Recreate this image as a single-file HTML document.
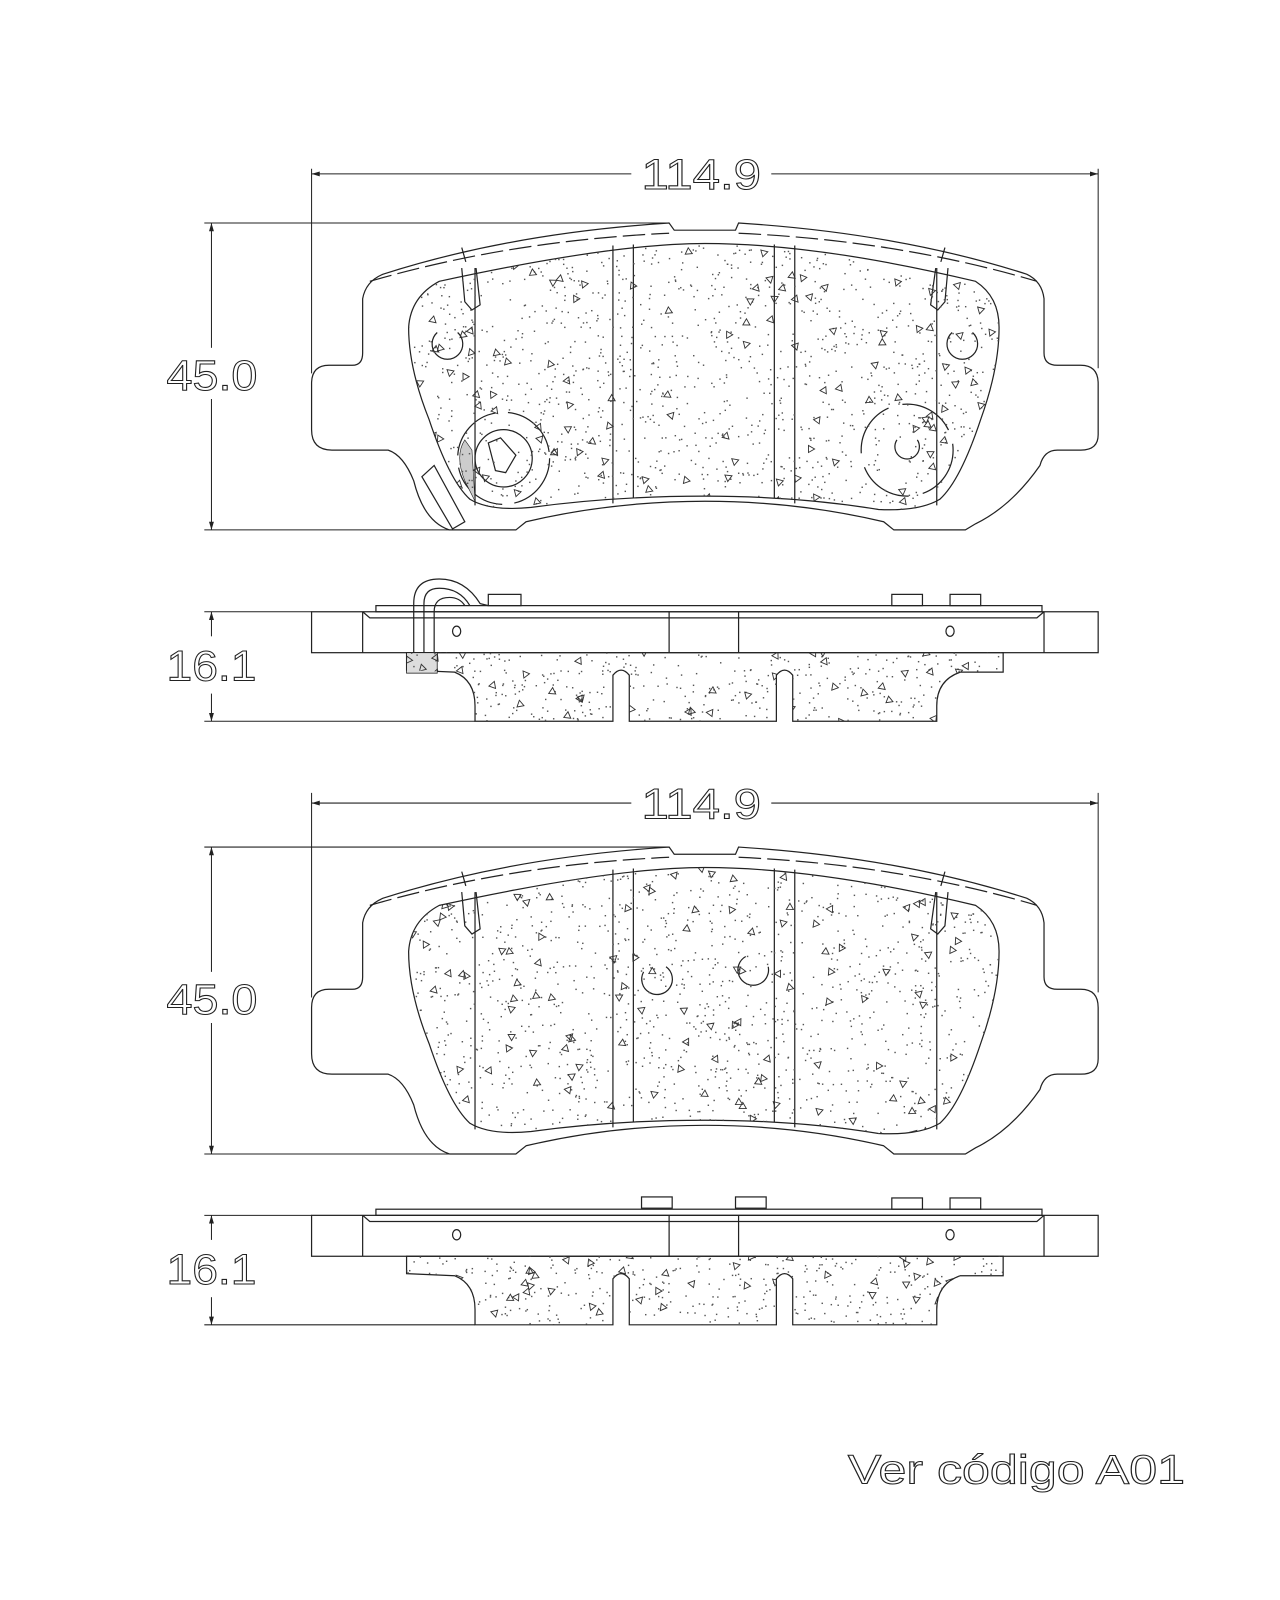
<!DOCTYPE html>
<html><head><meta charset="utf-8"><style>
html,body{margin:0;padding:0;background:#fff;}
svg{display:block;}
text{font-family:"Liberation Sans",sans-serif;fill:#fff;stroke:#222;stroke-width:1;}
</style></head><body>
<svg id="s" width="1280" height="1600" viewBox="0 0 1253 1564" preserveAspectRatio="none" xmlns="http://www.w3.org/2000/svg">
<defs>
<clipPath id="cf1"><path id="fric" d="M400,320 Q402,290 430,275 Q600,238 690,238 Q800,238 955,275 Q978,290 978,320 Q978,360 960,410 Q940,470 920,488 Q900,500 860,498 Q780,485 690,485 Q600,485 520,496 Q480,500 460,488 Q440,470 420,410 Q400,360 400,320 Z"/></clipPath>
<clipPath id="cs1"><path id="sfric" d="M398,638 L398,655 L445,657 Q465,665 465,690 L465,705 L600,705 L600,660 Q608,650 616,660 L616,705 L760,705 L760,660 Q768,650 776,660 L776,705 L917,705 L917,690 Q917,665 940,657 L982,657 L982,638 Z"/></clipPath>
<marker id="ah" viewBox="0 0 10 10" refX="10" refY="5" markerWidth="26" markerHeight="8" markerUnits="userSpaceOnUse" orient="auto"><path d="M0,2 L10,5 L0,8 Z" fill="#222"/></marker>
</defs>
<g fill="none" stroke="#222" stroke-width="1.2">
<g id="top1">
<path d="M305,375 Q305,357 322,357 L345,357 Q355,357 355,345 L355,292 Q358,275 375,268 Q500,228 655,218 L660,225 L720,225 L723,218 Q880,228 1005,268 Q1020,275 1022,292 L1022,345 Q1022,357 1035,357 L1058,357 Q1075,357 1075,375 L1075,425 Q1075,440 1058,440 L1035,440 Q1022,440 1018,455 Q990,495 955,512 L945,518 L875,518 L865,510 Q780,490 690,490 Q600,490 515,510 L505,518 L440,518 Q415,510 405,470 Q395,445 380,440 L325,440 Q305,440 305,420 Z"/>
<path d="M362,275 Q500,235 655,228 M723,228 Q880,235 1015,275" stroke-dasharray="22,6"/>
<use href="#fric"/>
<line x1="600" y1="240" x2="600" y2="492"/><line x1="620" y1="239" x2="620" y2="487"/>
<line x1="758" y1="239" x2="758" y2="487"/><line x1="778" y1="240" x2="778" y2="492"/>
<line x1="465" y1="262" x2="465" y2="494"/><line x1="917" y1="262" x2="917" y2="494"/>
<path d="M452,262 L455,295 L462,303 L470,298 L466,262"/>
<path d="M928,262 L925,295 L918,303 L911,298 L916,262"/>
<line x1="452" y1="242" x2="456" y2="256"/><line x1="925" y1="242" x2="921" y2="256"/>
</g>
<g>
<path d="M428,325 A15,15 0 1 0 448,325"/>
<path d="M952,325 A15,15 0 1 1 932,325"/>
<circle cx="493" cy="448" r="45" stroke-dasharray="60,12"/>
<circle cx="493" cy="448" r="28"/>
<path d="M478,433 L490,428 L505,445 L495,462 L485,460 Z"/>
<path d="M413,466 L425,455 L455,510 L443,517 Z"/>
<path d="M455,430 Q445,445 455,470 L465,490 L462,440 Z" fill="#ccc" stroke-width="0.6"/>
<circle cx="888" cy="440" r="45" stroke-dasharray="55,14"/>
<path d="M878,430 A12,12 0 1 0 898,430"/>
</g>
<g id="side1">
<rect x="305" y="598" width="770" height="40"/>
<line x1="355" y1="598" x2="355" y2="638"/><line x1="1022" y1="598" x2="1022" y2="638"/>
<path d="M355,598 L362,604 L1015,604 L1022,598"/>
<line x1="655" y1="598" x2="655" y2="638"/><line x1="723" y1="598" x2="723" y2="638"/>
<rect x="368" y="592" width="652" height="6"/>
<ellipse cx="447" cy="617" rx="4" ry="5"/><ellipse cx="930" cy="617" rx="4" ry="5"/>
<rect x="873" y="581" width="30" height="11"/><rect x="930" y="581" width="30" height="11"/>
<use href="#sfric"/>
</g>
<g>
<rect x="478" y="581" width="32" height="11"/>
<path d="M405,650 L405,590 Q405,566 430,566 Q455,566 470,590 L478,592"/>
<path d="M415,650 L415,590 Q415,575 430,575 Q450,575 460,592"/>
<path d="M425,650 L425,598 Q425,584 440,584 Q450,584 455,592"/>
<rect x="398" y="638" width="30" height="20" fill="#ddd" stroke-width="0.8"/>
</g>
<g transform="translate(0,610)"><use href="#top1"/></g>
<path d="M630,950 A15,15 0 1 0 652,945"/>
<path d="M730,935 A15,15 0 1 0 752,945"/>
<g transform="translate(0,590)"><use href="#side1"/></g>
<rect x="628" y="1170" width="30" height="11"/><rect x="720" y="1170" width="30" height="11"/>
<g stroke-width="1">
<line x1="305" y1="165" x2="305" y2="365"/><line x1="1075" y1="165" x2="1075" y2="360"/>
<line x1="618" y1="170" x2="305" y2="170" marker-end="url(#ah)"/><line x1="755" y1="170" x2="1075" y2="170" marker-end="url(#ah)"/>
<line x1="200" y1="218" x2="655" y2="218"/><line x1="200" y1="518" x2="440" y2="518"/>
<line x1="207" y1="340" x2="207" y2="218" marker-end="url(#ah)"/><line x1="207" y1="390" x2="207" y2="518" marker-end="url(#ah)"/>
<line x1="200" y1="598" x2="305" y2="598"/><line x1="200" y1="705" x2="465" y2="705"/>
<line x1="207" y1="622" x2="207" y2="598" marker-end="url(#ah)"/><line x1="207" y1="678" x2="207" y2="705" marker-end="url(#ah)"/>
<line x1="305" y1="775" x2="305" y2="975"/><line x1="1075" y1="775" x2="1075" y2="970"/>
<line x1="618" y1="785" x2="305" y2="785" marker-end="url(#ah)"/><line x1="755" y1="785" x2="1075" y2="785" marker-end="url(#ah)"/>
<line x1="200" y1="828" x2="655" y2="828"/><line x1="200" y1="1128" x2="440" y2="1128"/>
<line x1="207" y1="950" x2="207" y2="828" marker-end="url(#ah)"/><line x1="207" y1="1000" x2="207" y2="1128" marker-end="url(#ah)"/>
<line x1="200" y1="1188" x2="305" y2="1188"/><line x1="200" y1="1295" x2="465" y2="1295"/>
<line x1="207" y1="1212" x2="207" y2="1188" marker-end="url(#ah)"/><line x1="207" y1="1268" x2="207" y2="1295" marker-end="url(#ah)"/>
</g>
</g>
<g id="spk1" clip-path="url(#cf1)"></g>
<g id="spk2" clip-path="url(#cf1)" transform="translate(0,610)"></g>
<g id="spk3" clip-path="url(#cs1)"></g>
<g id="spk4" clip-path="url(#cs1)" transform="translate(0,590)"></g>
<text x="628" y="185" font-size="42" textLength="117" lengthAdjust="spacingAndGlyphs">114.9</text>
<text x="163" y="381" font-size="42" textLength="89" lengthAdjust="spacingAndGlyphs">45.0</text>
<text x="163" y="665" font-size="42" textLength="88" lengthAdjust="spacingAndGlyphs">16.1</text>
<text x="628" y="800" font-size="42" textLength="117" lengthAdjust="spacingAndGlyphs">114.9</text>
<text x="163" y="991" font-size="42" textLength="89" lengthAdjust="spacingAndGlyphs">45.0</text>
<text x="163" y="1255" font-size="42" textLength="88" lengthAdjust="spacingAndGlyphs">16.1</text>
<text x="830" y="1450" font-size="40" textLength="330" lengthAdjust="spacingAndGlyphs">Ver código A01</text>
</svg>
<script>
(function(){
var seed=12345;function r(){seed=(seed*16807)%2147483647;return seed/2147483647;}
function fill(id,x0,y0,w,h,nd,nt){
 var g=document.getElementById(id),s="";
 for(var i=0;i<nd;i++){var x=x0+r()*w,y=y0+r()*h;s+='<rect x="'+x.toFixed(1)+'" y="'+y.toFixed(1)+'" width="1.4" height="1.4" fill="#555"/>';}
 for(var j=0;j<nt;j++){var x=x0+r()*w,y=y0+r()*h,a=r()*6.28,d=4;
  var p=[];for(var k=0;k<3;k++){p.push((x+d*Math.cos(a+k*2.094)).toFixed(1)+","+(y+d*Math.sin(a+k*2.094)).toFixed(1));}
  s+='<polygon points="'+p.join(" ")+'" fill="none" stroke="#333" stroke-width="0.9"/>';}
 g.innerHTML=s;
}
fill("spk1",395,235,590,270,1400,130);
fill("spk2",395,235,590,270,1400,130);
fill("spk3",395,636,590,72,450,45);
fill("spk4",395,636,590,72,450,45);
})();
</script>
</body></html>
